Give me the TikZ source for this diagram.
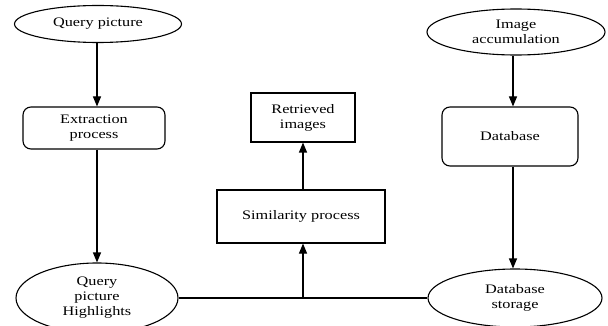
\documentclass[tikz,border=0pt]{standalone}
\usepackage{fontspec}
\setmainfont[FakeStretch=1.25]{Liberation Serif}
\usetikzlibrary{shapes.geometric,arrows.meta}
\begin{document}
\begin{tikzpicture}[x=1pt,y=1pt,
  every node/.style={font=\fontsize{13}{15}\selectfont, align=center, inner sep=0pt, line width=1.1pt},
  oval/.style={draw, ellipse},
  rbox/.style={draw, rounded corners=8pt},
  sbox/.style={draw},
  conn/.style={line width=1.1pt},
  arr/.style={conn, -{Triangle[length=10pt,width=8pt]}}]
\useasboundingbox (0,0) rectangle (608,-326);
\node[oval, minimum width=167pt, minimum height=37pt] (qp) at (98,-24) {Query picture};
\node[rbox, minimum width=142pt, minimum height=42pt] (ext) at (94,-128) {Extraction\\process};
\node[oval, minimum width=162pt, minimum height=70pt] (qph) at (97,-298) {Query\\picture\\Highlights};
\node[sbox, minimum width=168pt, minimum height=53pt] (sim) at (301,-216.5) {Similarity process};
\node[sbox, minimum width=104pt, minimum height=49pt] (ret) at (303,-117.5) {Retrieved\\images};
\node[oval, minimum width=178pt, minimum height=46pt] (ia) at (516,-32) {Image\\accumulation};
\node[rbox, minimum width=136pt, minimum height=59pt] (db) at (510,-136.5) {Database};
\node[oval, minimum width=174pt, minimum height=58pt] (dbs) at (515,-298) {Database\\storage};
\coordinate (q1) at (97,0);
\coordinate (d1) at (513,0);
\coordinate (s1) at (303,0);
\draw[arr] (q1 |- qp.south) -- (q1 |- ext.north);
\draw[arr] (q1 |- ext.south) -- (q1 |- qph.north);
\draw[conn] (qph.east) -- (dbs.west);
\draw[arr] (s1 |- qph.east) -- (s1 |- sim.south);
\draw[arr] (s1 |- sim.north) -- (s1 |- ret.south);
\draw[arr] (d1 |- ia.south) -- (d1 |- db.north);
\draw[arr] (d1 |- db.south) -- (d1 |- dbs.north);
\end{tikzpicture}
\end{document}
